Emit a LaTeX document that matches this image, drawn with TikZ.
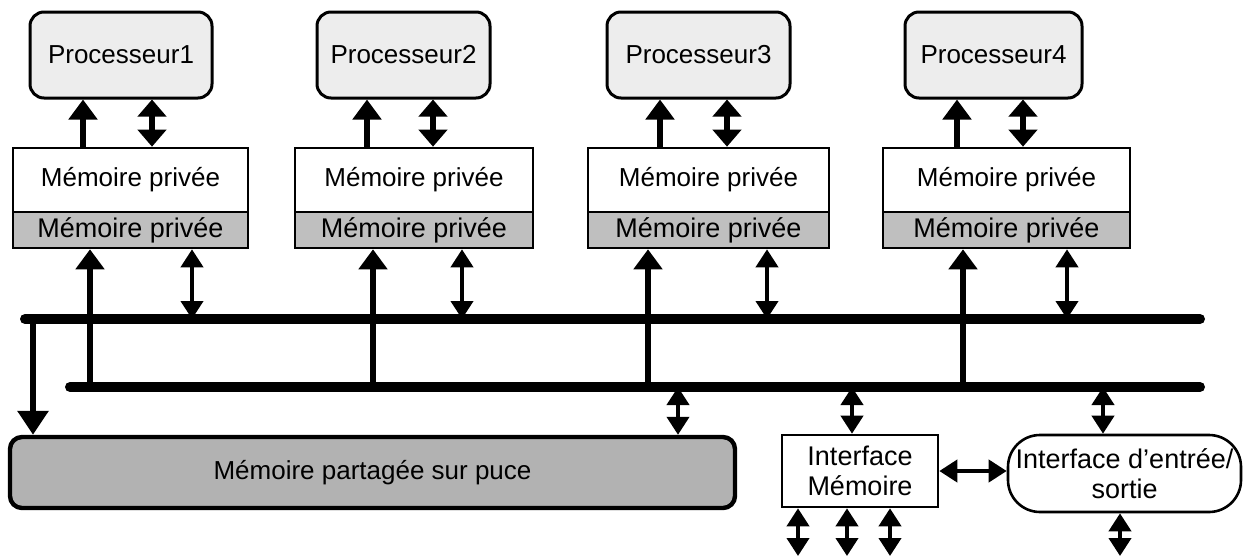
\documentclass[tikz,border=0pt]{standalone}
\usepackage{fontspec}
\setmainfont{Liberation Sans}
\usetikzlibrary{arrows.meta,calc}
\begin{document}
\begin{tikzpicture}[x=0.5pt,y=-0.5pt,
  every node/.style={font=\fontsize{13}{15}\selectfont, inner sep=0pt},
  procbox/.style={draw, line width=1.5pt, rounded corners=7pt, fill=gray!14, minimum height=43pt},
  memw/.style={draw, line width=1.3pt, fill=white, minimum height=32pt},
  mems/.style={draw, line width=1.3pt, fill=gray!50, minimum height=18pt, font=\fontsize{13.5}{15}\selectfont},
  sharedbox/.style={draw, line width=2.2pt, rounded corners=6pt, fill=gray!60},
  ifbox/.style={draw, line width=1.3pt, fill=white, align=center, font=\fontsize{13.5}{15}\selectfont},
  bus/.style={line width=5pt, line cap=round},
  uparrow/.style={line width=2.6pt, -{Triangle[width=14pt,length=10pt]}},
  pdbl/.style={line width=2.8pt, {Triangle[width=14pt,length=8.5pt]}-{Triangle[width=14pt,length=8.5pt]}},
  dbl/.style={line width=2pt, {Triangle[width=11pt,length=9pt]}-{Triangle[width=11pt,length=9pt]}},
  downarrow/.style={line width=3pt, -{Triangle[width=15pt,length=12pt]}},
]
\useasboundingbox (0,0) rectangle (1247,558);

% buses
\coordinate (ubusL) at (25,319);
\coordinate (ubusR) at (1200,319);
\coordinate (lbusL) at (70,387);
\coordinate (lbusR) at (1200,387);
\draw[bus] (ubusL) -- (ubusR);
\draw[bus] (lbusL) -- (lbusR);

\foreach \i/\cx/\w/\mx/\mwd/\ta/\da/\tb/\db in {
  1/121/182/130.5/235/83/152/90/192,
  2/403.5/173/414/238/367/433/373/462,
  3/698.5/183/708.5/241/660/727/648/767,
  4/993.5/177/1006.5/247/957/1023/963/1067}{
  \node[procbox, minimum width=\w*0.5pt] (P\i) at (\cx,55) {Processeur\i};
  \node[memw, minimum width=\mwd*0.5pt] (Mw\i) at (\mx,180) {Mémoire privée};
  \node[mems, minimum width=\mwd*0.5pt] (Ms\i) at (\mx,230) {Mémoire privée};
  \coordinate (ta\i) at (\ta,0);
  \coordinate (da\i) at (\da,0);
  \coordinate (tb\i) at (\tb,0);
  \coordinate (db\i) at (\db,0);
  \draw[uparrow] (Mw\i.north -| ta\i) -- (P\i.south -| ta\i);
  \draw[pdbl] (Mw\i.north -| da\i) -- (P\i.south -| da\i);
  \draw[uparrow] (lbusL -| tb\i) -- (Ms\i.south -| tb\i);
  \draw[dbl] (ubusL -| db\i) -- (Ms\i.south -| db\i);
}

% shared memory
\node[sharedbox, minimum width=362.5pt, minimum height=35.5pt] (sh) at (372.5,472.5) {Mémoire partagée sur puce};
\coordinate (dl) at (33,0);
\draw[downarrow] (ubusL -| dl) -- (sh.north -| dl);
\coordinate (shx) at (678,0);
\draw[dbl] (lbusL -| shx) -- (sh.north -| shx);

% interfaces
\node[ifbox, minimum width=78pt, minimum height=36pt] (im) at (860,471) {Interface\\Mémoire};
\node[ifbox, rounded corners=16pt, minimum width=116.5pt, minimum height=38.5pt] (io) at (1124.5,473.5) {Interface d'entrée/\\sortie};
\coordinate (imx) at (852,0);
\coordinate (iox) at (1103,0);
\draw[dbl] (lbusL -| imx) -- (im.north -| imx);
\draw[dbl] (lbusL -| iox) -- (io.north -| iox);
\draw[dbl] (im.east) -- (im.east -| io.west);

\coordinate (b1) at (798,556);
\coordinate (b2) at (847,556);
\coordinate (b3) at (890,556);
\coordinate (b4) at (1120,556);
\draw[dbl] (im.south -| b1) -- (b1);
\draw[dbl] (im.south -| b2) -- (b2);
\draw[dbl] (im.south -| b3) -- (b3);
\draw[dbl] (io.south -| b4) -- (b4);
\end{tikzpicture}
\end{document}
